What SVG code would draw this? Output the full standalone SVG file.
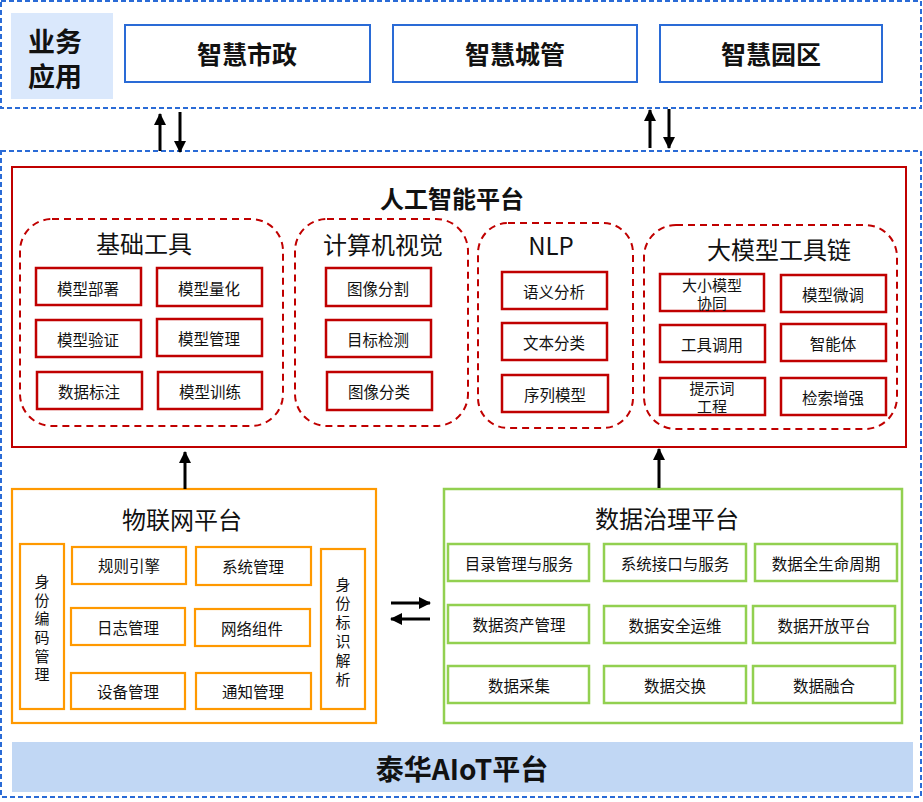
<svg xmlns="http://www.w3.org/2000/svg" width="923" height="802" viewBox="0 0 923 802">
<style>
text{font-family:"Noto Sans CJK SC","Noto Sans",sans-serif;fill:#111;text-anchor:middle;dominant-baseline:central}
.dash{fill:none;stroke:#2A6BD6;stroke-width:2;stroke-dasharray:5 3}
.top{fill:#fff;stroke:#2A6BD6;stroke-width:2}
.tt{font-size:25px;font-weight:bold}
.red{fill:none;stroke:#C00000;stroke-width:2}
.rd{fill:none;stroke:#C00000;stroke-width:2;stroke-dasharray:7 5}
.rb{fill:#fff;stroke:#C00000;stroke-width:2.5}
.ob{fill:#fff;stroke:#FF9900;stroke-width:2.2}
.gb{fill:#fff;stroke:#92D050;stroke-width:2.5}
.s{font-size:15.5px}
.s2{font-size:15px}
.h{font-size:24px}
.v{font-size:15px}
.ar{stroke:#000;stroke-width:3;fill:none}
</style>
<defs>
<marker id="ah" markerUnits="userSpaceOnUse" markerWidth="14" markerHeight="14" refX="11" refY="6" orient="auto"><path d="M0,0 L12,6 L0,12 Z" fill="#000"/></marker>
</defs>

<rect class="dash" x="1" y="1" width="920" height="107"/>
<rect class="dash" x="1" y="151" width="920" height="646"/>

<g id="biz">
<rect x="11" y="13" width="102" height="86" fill="#DAE8FC"/>
<text x="55" y="40" style="font-size:27px;font-weight:bold">业务</text>
<text x="55" y="75" style="font-size:27px;font-weight:bold">应用</text>
</g>
<g id="szsz"><rect class="top" x="125" y="25" width="245" height="57"/><text class="tt" x="247" y="53">智慧市政</text></g>
<g id="szcg"><rect class="top" x="393" y="25" width="244" height="57"/><text class="tt" x="515" y="53">智慧城管</text></g>
<g id="szyq"><rect class="top" x="660" y="25" width="222" height="57"/><text class="tt" x="771" y="53">智慧园区</text></g>

<g id="ai">
<rect class="red" x="12" y="167" width="894" height="280"/>
<text x="452" y="197" style="font-size:24px;font-weight:bold">人工智能平台</text>
</g>

<g id="jcgj">
<rect class="rd" x="20" y="219" width="263" height="207" rx="32"/>
<text class="h" x="144" y="242">基础工具</text>
<rect class="rb" x="36" y="268" width="105" height="37"/><text class="s" x="88" y="288">模型部署</text>
<rect class="rb" x="157" y="268" width="105" height="38"/><text class="s" x="209" y="288">模型量化</text>
<rect class="rb" x="36" y="320" width="105" height="37"/><text class="s" x="88" y="339">模型验证</text>
<rect class="rb" x="157" y="319" width="105" height="37"/><text class="s" x="209" y="338">模型管理</text>
<rect class="rb" x="37" y="372" width="105" height="37"/><text class="s" x="89" y="391">数据标注</text>
<rect class="rb" x="158" y="372" width="104" height="37"/><text class="s" x="210" y="391">模型训练</text>
</g>

<g id="cv">
<rect class="rd" x="295" y="219" width="173" height="207" rx="32"/>
<text class="h" x="383" y="243">计算机视觉</text>
<rect class="rb" x="326" y="268" width="105" height="38"/><text class="s" x="378" y="288">图像分割</text>
<rect class="rb" x="326" y="320" width="105" height="37"/><text class="s" x="378" y="339">目标检测</text>
<rect class="rb" x="327" y="372" width="105" height="38"/><text class="s" x="379" y="391">图像分类</text>
</g>

<g id="nlp">
<rect class="rd" x="478" y="223" width="155" height="205" rx="30"/>
<text class="h" x="551" y="244">NLP</text>
<rect class="rb" x="502" y="272" width="105" height="37"/><text class="s" x="554" y="291">语义分析</text>
<rect class="rb" x="502" y="323" width="105" height="37"/><text class="s" x="554" y="342">文本分类</text>
<rect class="rb" x="502" y="375" width="106" height="37"/><text class="s" x="555" y="394">序列模型</text>
</g>

<g id="llm">
<rect class="rd" x="644" y="225" width="253" height="204" rx="32"/>
<text class="h" x="779" y="248">大模型工具链</text>
<rect class="rb" x="660" y="274" width="104" height="37"/><text class="s2" x="712" y="284">大小模型</text><text class="s2" x="712" y="302">协同</text>
<rect class="rb" x="781" y="275" width="105" height="37"/><text class="s" x="833" y="294">模型微调</text>
<rect class="rb" x="660" y="325" width="105" height="37"/><text class="s" x="712" y="344">工具调用</text>
<rect class="rb" x="781" y="324" width="105" height="37"/><text class="s" x="833" y="343">智能体</text>
<rect class="rb" x="660" y="378" width="105" height="37"/><text class="s2" x="712" y="387">提示词</text><text class="s2" x="712" y="405">工程</text>
<rect class="rb" x="781" y="378" width="105" height="37"/><text class="s" x="833" y="397">检索增强</text>
</g>

<g id="iot">
<rect class="ob" x="12" y="489" width="364" height="234"/>
<text class="h" x="182" y="518">物联网平台</text>
<rect class="ob" x="20" y="544" width="44" height="165"/>
<text class="v" x="42" y="580">身</text><text class="v" x="42" y="599">份</text><text class="v" x="42" y="617">编</text><text class="v" x="42" y="636">码</text><text class="v" x="42" y="655">管</text><text class="v" x="42" y="673">理</text>
<rect class="ob" x="72" y="547" width="114" height="37"/><text class="s" x="129" y="565">规则引擎</text>
<rect class="ob" x="196" y="547" width="115" height="38"/><text class="s" x="253" y="566">系统管理</text>
<rect class="ob" x="71" y="608" width="114" height="37"/><text class="s" x="128" y="627">日志管理</text>
<rect class="ob" x="195" y="609" width="115" height="37"/><text class="s" x="252" y="628">网络组件</text>
<rect class="ob" x="71" y="673" width="114" height="36"/><text class="s" x="128" y="691">设备管理</text>
<rect class="ob" x="196" y="673" width="115" height="36"/><text class="s" x="253" y="691">通知管理</text>
<rect class="ob" x="321" y="549" width="44" height="160"/>
<text class="v" x="343" y="583">身</text><text class="v" x="343" y="602">份</text><text class="v" x="343" y="621">标</text><text class="v" x="343" y="640">识</text><text class="v" x="343" y="659">解</text><text class="v" x="343" y="678">析</text>
</g>

<g id="data">
<rect class="gb" x="444" y="489" width="458" height="234"/>
<text class="h" x="667" y="517">数据治理平台</text>
<rect class="gb" x="448" y="544" width="141" height="37"/><text class="s" x="519" y="563">目录管理与服务</text>
<rect class="gb" x="604" y="544" width="142" height="37"/><text class="s" x="675" y="563">系统接口与服务</text>
<rect class="gb" x="755" y="544" width="142" height="37"/><text class="s" x="826" y="563">数据全生命周期</text>
<rect class="gb" x="448" y="605" width="141" height="38"/><text class="s" x="519" y="624">数据资产管理</text>
<rect class="gb" x="604" y="606" width="142" height="37"/><text class="s" x="675" y="625">数据安全运维</text>
<rect class="gb" x="753" y="606" width="142" height="37"/><text class="s" x="824" y="625">数据开放平台</text>
<rect class="gb" x="448" y="666" width="141" height="37"/><text class="s" x="519" y="685">数据采集</text>
<rect class="gb" x="604" y="666" width="142" height="37"/><text class="s" x="675" y="685">数据交换</text>
<rect class="gb" x="753" y="666" width="142" height="37"/><text class="s" x="824" y="685">数据融合</text>
</g>

<g id="base">
<rect x="12" y="742" width="901" height="50" fill="#C1D7F4"/>
<text x="462" y="768" style="font-size:28px;font-weight:bold">泰华AIoT平台</text>
</g>

<g id="connectors">
<line class="ar" x1="160" y1="151" x2="160" y2="114" marker-end="url(#ah)"/>
<line class="ar" x1="180" y1="112" x2="180" y2="152" marker-end="url(#ah)"/>
<line class="ar" x1="650" y1="148" x2="650" y2="110" marker-end="url(#ah)"/>
<line class="ar" x1="669" y1="109" x2="669" y2="148" marker-end="url(#ah)"/>
<line class="ar" x1="185" y1="489" x2="185" y2="452" marker-end="url(#ah)"/>
<line class="ar" x1="659" y1="488" x2="659" y2="449" marker-end="url(#ah)"/>
<line class="ar" x1="391" y1="603" x2="430" y2="603" marker-end="url(#ah)"/>
<line class="ar" x1="430" y1="619" x2="391" y2="619" marker-end="url(#ah)"/>
</g>
</svg>
